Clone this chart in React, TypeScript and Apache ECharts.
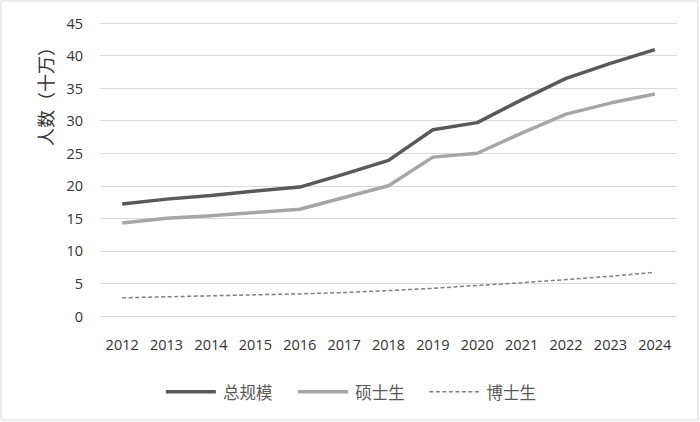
import React, { useEffect, useRef } from "react";
import * as echarts from "echarts";

const years = ["2012","2013","2014","2015","2016","2017","2018","2019","2020","2021","2022","2023","2024"];
const total = [17.2, 17.95, 18.5, 19.2, 19.8, 21.8, 23.9, 28.6, 29.7, 33.2, 36.5, 38.8, 40.9];
const master = [14.3, 15.0, 15.4, 15.9, 16.4, 18.2, 20.0, 24.4, 25.0, 28.1, 31.0, 32.7, 34.1];
const doctor = [2.8, 2.95, 3.1, 3.25, 3.4, 3.6, 3.9, 4.25, 4.7, 5.1, 5.6, 6.1, 6.7];
const seriesNames = ["总规模", "硕士生", "博士生"];
const yTicks = { min: 0, max: 45, interval: 5 };

export default function App() {
  const ref = useRef<HTMLDivElement>(null);
  useEffect(() => {
    const chart = echarts.init(ref.current!, null, { renderer: "svg" });
    const latin = "'Open Sans', 'Noto Sans', sans-serif";
    const cjk = "'Noto Sans CJK SC', sans-serif";
    chart.setOption({
      animation: false,
      backgroundColor: "#ffffff",
      grid: { left: 100, right: 23, top: 23, bottom: 106 },
      xAxis: {
        type: "category",
        data: years,
        boundaryGap: true,
        axisLine: { show: false },
        axisTick: { show: false },
        axisLabel: { color: "#333333", fontSize: 14.5, fontFamily: latin, margin: 21 },
      },
      yAxis: {
        type: "value",
        min: yTicks.min,
        max: yTicks.max,
        interval: yTicks.interval,
        axisLine: { show: false },
        axisTick: { show: false },
        axisLabel: { color: "#333333", fontSize: 14.5, fontFamily: latin, margin: 17 },
        splitLine: { lineStyle: { color: "#d9d9d9", width: 1 } },
      },
      legend: {
        bottom: 17,
        left: "center",
        itemWidth: 50,
        itemHeight: 12,
        itemGap: 24,
        itemStyle: { opacity: 0 },
        textStyle: { color: "#595959", fontSize: 16.5, fontFamily: cjk, padding: [0, 0, 0, 2] },
        data: [
          { name: seriesNames[0], lineStyle: { width: 3.5, color: "#595959" } },
          { name: seriesNames[1], lineStyle: { width: 3.5, color: "#a6a6a6" } },
          { name: seriesNames[2], lineStyle: { width: 1.5, color: "#7f7f7f", type: [4, 2.5] } },
        ],
      },
      graphic: [
        {
          type: "rect",
          shape: { x: 1, y: 1, width: 697, height: 419 },
          style: { fill: "none", stroke: "#d9d9d9", lineWidth: 1 },
          silent: true,
        },
        {
          type: "text",
          x: 45,
          y: 92,
          rotation: Math.PI / 2,
          style: {
            text: "人数（十万）",
            fill: "#333333",
            font: "18px 'Noto Sans CJK SC', sans-serif",
            align: "center",
            verticalAlign: "middle",
          },
        },
      ],
      series: [
        {
          name: seriesNames[0],
          type: "line",
          data: total,
          symbol: "none",
          lineStyle: { color: "#595959", width: 3.5 },
          itemStyle: { color: "#595959" },
        },
        {
          name: seriesNames[1],
          type: "line",
          data: master,
          symbol: "none",
          lineStyle: { color: "#a6a6a6", width: 3.5 },
          itemStyle: { color: "#a6a6a6" },
        },
        {
          name: seriesNames[2],
          type: "line",
          data: doctor,
          symbol: "none",
          lineStyle: { color: "#7f7f7f", width: 1.5, type: [4, 2.5] },
          itemStyle: { color: "#7f7f7f" },
        },
      ],
    });
    return () => chart.dispose();
  }, []);
  return (
    <div
      ref={ref}
      style={{ position: "fixed", left: 0, top: 0, width: 700, height: 422 }}
    />
  );
}
